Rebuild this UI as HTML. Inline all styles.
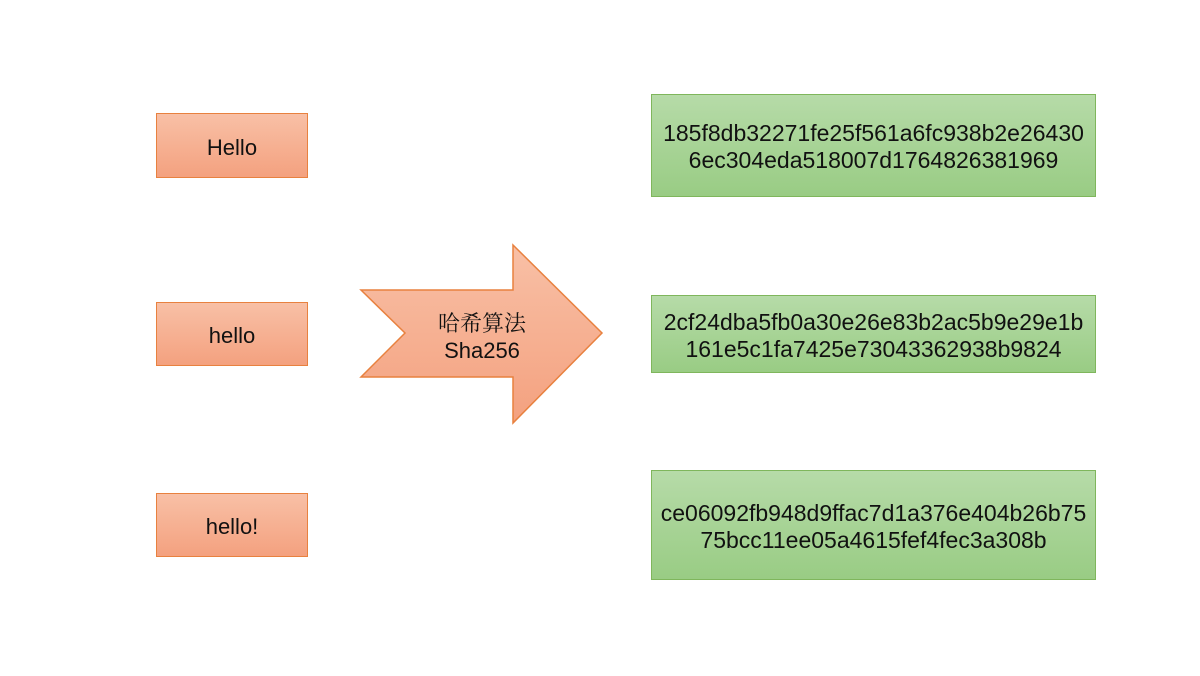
<!DOCTYPE html>
<html><head><meta charset="utf-8"><style>
body{margin:0;width:1200px;height:676px;background:#fff;position:relative;overflow:hidden;font-family:"Liberation Sans","Noto Sans CJK SC",sans-serif;}
.b{position:absolute;box-sizing:border-box;display:flex;align-items:center;justify-content:center;text-align:center;font-size:22px;color:#111;line-height:27px;padding-top:3px;}
.o{background:linear-gradient(#f8c0a6,#f4a17f);border:1.5px solid #e8813f;}
.g{background:linear-gradient(#b6dba8,#99cc84);border:1.5px solid #7fb65c;font-size:23px;}
</style></head><body>
<div class="b o" style="left:156px;top:113px;width:152px;height:65px">Hello</div>
<div class="b o" style="left:156px;top:302px;width:152px;height:64px">hello</div>
<div class="b o" style="left:156px;top:493px;width:152px;height:64px">hello!</div>
<svg style="position:absolute;left:0;top:0" width="1200" height="676">
<defs><linearGradient id="a" x1="0" y1="0" x2="0" y2="1"><stop offset="0" stop-color="#f8c0a6"/><stop offset="1" stop-color="#f4a17f"/></linearGradient></defs>
<polygon points="361,290 513,290 513,245 602,333 513,423 513,377 361,377 405,333" fill="url(#a)" stroke="#e8813f" stroke-width="1.5"/>
<text x="482" y="331" font-size="22" text-anchor="middle" font-family="Noto Serif CJK SC,serif" fill="#111">哈希算法</text>
<text x="482" y="358" font-size="22" text-anchor="middle" font-family="Liberation Sans,sans-serif" fill="#111">Sha256</text>
</svg>
<div class="b g" style="left:651px;top:94px;width:445px;height:103px">185f8db32271fe25f561a6fc938b2e26430<br>6ec304eda518007d1764826381969</div>
<div class="b g" style="left:651px;top:295px;width:445px;height:78px">2cf24dba5fb0a30e26e83b2ac5b9e29e1b<br>161e5c1fa7425e73043362938b9824</div>
<div class="b g" style="left:651px;top:470px;width:445px;height:110px">ce06092fb948d9ffac7d1a376e404b26b75<br>75bcc11ee05a4615fef4fec3a308b</div>
</body></html>
